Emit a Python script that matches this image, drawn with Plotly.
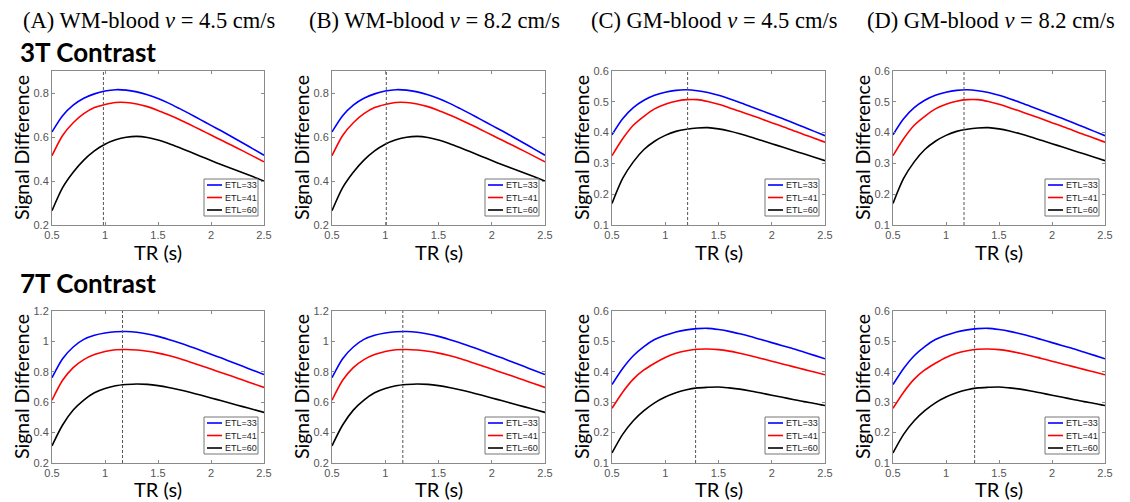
import plotly.graph_objects as go
from plotly.subplots import make_subplots

tr = [0.5, 0.6, 0.7, 0.8, 0.9, 1.0, 1.1, 1.2, 1.3, 1.4, 1.5,
      1.6, 1.7, 1.8, 1.9, 2.0, 2.1, 2.2, 2.3, 2.4, 2.5]
etl_labels = ["ETL=33", "ETL=41", "ETL=60"]
etl_colors = ["#0000ff", "#ff0000", "#000000"]

# 3T, WM-blood
wm3_33 = [0.623, 0.697, 0.745, 0.776, 0.796, 0.809, 0.815, 0.813, 0.805, 0.792, 0.775,
          0.754, 0.730, 0.705, 0.679, 0.653, 0.627, 0.600, 0.573, 0.545, 0.517]
wm3_41 = [0.515, 0.607, 0.665, 0.706, 0.734, 0.748, 0.757, 0.757, 0.750, 0.738, 0.721,
          0.701, 0.680, 0.657, 0.633, 0.609, 0.585, 0.561, 0.537, 0.512, 0.487]
wm3_60 = [0.265, 0.370, 0.440, 0.495, 0.537, 0.567, 0.587, 0.599, 0.603, 0.598, 0.586,
          0.570, 0.552, 0.533, 0.513, 0.493, 0.474, 0.456, 0.437, 0.419, 0.400]

# 3T, GM-blood
gm3_33 = [0.393, 0.445, 0.481, 0.505, 0.521, 0.531, 0.537, 0.539, 0.536, 0.530, 0.521,
          0.510, 0.498, 0.485, 0.472, 0.459, 0.446, 0.432, 0.418, 0.404, 0.390]
gm3_41 = [0.325, 0.380, 0.424, 0.453, 0.477, 0.492, 0.502, 0.507, 0.507, 0.501, 0.492,
          0.481, 0.469, 0.457, 0.445, 0.432, 0.420, 0.407, 0.394, 0.382, 0.369]
gm3_60 = [0.170, 0.251, 0.305, 0.345, 0.372, 0.391, 0.404, 0.411, 0.415, 0.416, 0.412,
          0.405, 0.396, 0.386, 0.375, 0.364, 0.353, 0.342, 0.331, 0.320, 0.309]

# 7T, WM-blood
wm7_33 = [0.761, 0.886, 0.963, 1.013, 1.040, 1.055, 1.063, 1.065, 1.060, 1.049, 1.033,
          1.013, 0.991, 0.967, 0.942, 0.916, 0.890, 0.863, 0.836, 0.809, 0.782]
wm7_41 = [0.613, 0.744, 0.827, 0.880, 0.913, 0.934, 0.945, 0.947, 0.943, 0.935, 0.923,
          0.907, 0.888, 0.865, 0.842, 0.818, 0.794, 0.770, 0.746, 0.721, 0.697]
wm7_60 = [0.313, 0.450, 0.548, 0.614, 0.662, 0.690, 0.708, 0.716, 0.720, 0.717, 0.709,
          0.697, 0.682, 0.665, 0.647, 0.628, 0.609, 0.590, 0.571, 0.552, 0.533]

# 7T, GM-blood
gm7_33 = [0.358, 0.411, 0.453, 0.483, 0.506, 0.520, 0.531, 0.538, 0.542, 0.543, 0.539,
          0.533, 0.525, 0.516, 0.506, 0.496, 0.486, 0.476, 0.465, 0.454, 0.443]
gm7_41 = [0.280, 0.333, 0.376, 0.406, 0.428, 0.447, 0.461, 0.469, 0.474, 0.475, 0.473,
          0.468, 0.461, 0.453, 0.444, 0.435, 0.426, 0.417, 0.408, 0.399, 0.390]
gm7_60 = [0.133, 0.194, 0.239, 0.272, 0.298, 0.317, 0.331, 0.341, 0.347, 0.349, 0.350,
          0.347, 0.343, 0.337, 0.330, 0.323, 0.316, 0.309, 0.302, 0.296, 0.289]

# optimal TR marked with the dashed line, per panel (A, B, C, D)
opt_tr_3t = [0.985, 1.01, 1.21, 1.17]
opt_tr_7t = [1.165, 1.165, 1.285, 1.27]

col_titles = ["(A) WM-blood <i>v</i> = 4.5 cm/s", "(B) WM-blood <i>v</i> = 8.2 cm/s",
              "(C) GM-blood <i>v</i> = 4.5 cm/s", "(D) GM-blood <i>v</i> = 8.2 cm/s"]
row_titles = ["3T Contrast", "7T Contrast"]

panels = {
    (1, 1): ([wm3_33, wm3_41, wm3_60], [0.2, 0.9], 0.2, opt_tr_3t[0]),
    (1, 2): ([wm3_33, wm3_41, wm3_60], [0.2, 0.9], 0.2, opt_tr_3t[1]),
    (1, 3): ([gm3_33, gm3_41, gm3_60], [0.1, 0.6], 0.1, opt_tr_3t[2]),
    (1, 4): ([gm3_33, gm3_41, gm3_60], [0.1, 0.6], 0.1, opt_tr_3t[3]),
    (2, 1): ([wm7_33, wm7_41, wm7_60], [0.2, 1.2], 0.2, opt_tr_7t[0]),
    (2, 2): ([wm7_33, wm7_41, wm7_60], [0.2, 1.2], 0.2, opt_tr_7t[1]),
    (2, 3): ([gm7_33, gm7_41, gm7_60], [0.1, 0.6], 0.1, opt_tr_7t[2]),
    (2, 4): ([gm7_33, gm7_41, gm7_60], [0.1, 0.6], 0.1, opt_tr_7t[3]),
}

W, H = 1130, 502
OFF = 8  # page body margin of the html page
x_px = [(52, 264), (332, 545), (612, 825), (893, 1105)]
y_px = [(71, 225), (311, 463)]


def px(x, y):
    # screen pixel -> paper coords
    return (x - OFF) / W, 1 - (y - OFF) / H


fig = make_subplots(rows=2, cols=4)

axis_style = dict(showline=True, linecolor="#8a8a8a", linewidth=1, mirror="ticks",
                  ticks="inside", ticklen=3, tickcolor="#8a8a8a", showgrid=False,
                  zeroline=False, automargin=False,
                  tickfont=dict(family="Arial", size=11, color="#555555"))

for (r, c), (series, yr, dy, opt) in panels.items():
    for vals, name, color in zip(series, etl_labels, etl_colors):
        fig.add_trace(go.Scatter(x=tr, y=vals, mode="lines", name=name, showlegend=False,
                                 line=dict(color=color, width=1.6, shape="spline", smoothing=0.8)),
                      row=r, col=c)
    fig.add_trace(go.Scatter(x=[opt, opt], y=yr, mode="lines", showlegend=False,
                             line=dict(color="#555555", width=1, dash="3px,2px")), row=r, col=c)

    left, right = x_px[c - 1]
    top, bottom = y_px[r - 1]
    xl, yb = px(left, bottom)
    xr, yt = px(right, top)
    fig.update_xaxes(axis_style, domain=[xl, xr], range=[0.5, 2.5],
                     tickvals=[0.5, 1, 1.5, 2, 2.5], row=r, col=c)
    ticks = [round(yr[0] + k * dy, 2) for k in range(int(round((yr[1] - yr[0]) / dy)) + 1)]
    fig.update_yaxes(axis_style, domain=[yb, yt], range=yr, tickvals=ticks, row=r, col=c)

    # axis titles
    ax, ay = px((left + right) / 2, bottom + 27 if r == 1 else bottom + 26)
    fig.add_annotation(text="TR (s)", x=ax, y=ay, xref="paper", yref="paper", showarrow=False,
                       xanchor="center", yanchor="middle",
                       font=dict(family="Lato", size=20, color="black"))
    ax, ay = px(left - 31, (top + bottom) / 2)
    fig.add_annotation(text="Signal Difference", x=ax, y=ay, xref="paper", yref="paper",
                       showarrow=False, textangle=-90, xanchor="center", yanchor="middle",
                       font=dict(family="Lato", size=19.5, color="black"))

    # legend box, bottom right inside the axes
    bx0, bx1 = right - 60, right - 6
    by0, by1 = bottom - 46, bottom - 9
    x0, y0 = px(bx0, by0)
    x1, y1 = px(bx1, by1)
    fig.add_shape(type="rect", xref="paper", yref="paper", x0=x0, x1=x1, y0=y0, y1=y1,
                  line=dict(color="#777777", width=1), fillcolor="white")
    for k, (name, color) in enumerate(zip(etl_labels, etl_colors)):
        ly = by0 + 6 + 12.5 * k
        lx0, lyy = px(bx0 + 3, ly)
        lx1, _ = px(bx0 + 18, ly)
        fig.add_shape(type="line", xref="paper", yref="paper", x0=lx0, x1=lx1, y0=lyy, y1=lyy,
                      line=dict(color=color, width=1.6))
        tx, _ = px(bx0 + 19, ly)
        fig.add_annotation(text=name, x=tx, y=lyy, xref="paper", yref="paper", showarrow=False,
                           xanchor="left", yanchor="middle",
                           font=dict(family="Arial", size=9, color="#222222"))

centers = [149, 434, 714, 991]
for t, cx in zip(col_titles, centers):
    x, y = px(cx, 21)
    fig.add_annotation(text=t, x=x, y=y, xref="paper", yref="paper",
                       showarrow=False, xanchor="center", yanchor="middle",
                       font=dict(family="Liberation Serif", size=22.5, color="black"))
for t, cy in zip(row_titles, [52, 283]):
    x, y = px(18, cy)
    fig.add_annotation(text="<b>" + t + "</b>", x=x, y=y, xref="paper", yref="paper",
                       showarrow=False, xanchor="left", yanchor="middle",
                       font=dict(family="Lato", size=26, color="black"))

fig.update_layout(width=W, height=H, margin=dict(l=0, r=0, t=0, b=0, autoexpand=False),
                  paper_bgcolor="white", plot_bgcolor="white", showlegend=False)
fig.write_html("out.html")
